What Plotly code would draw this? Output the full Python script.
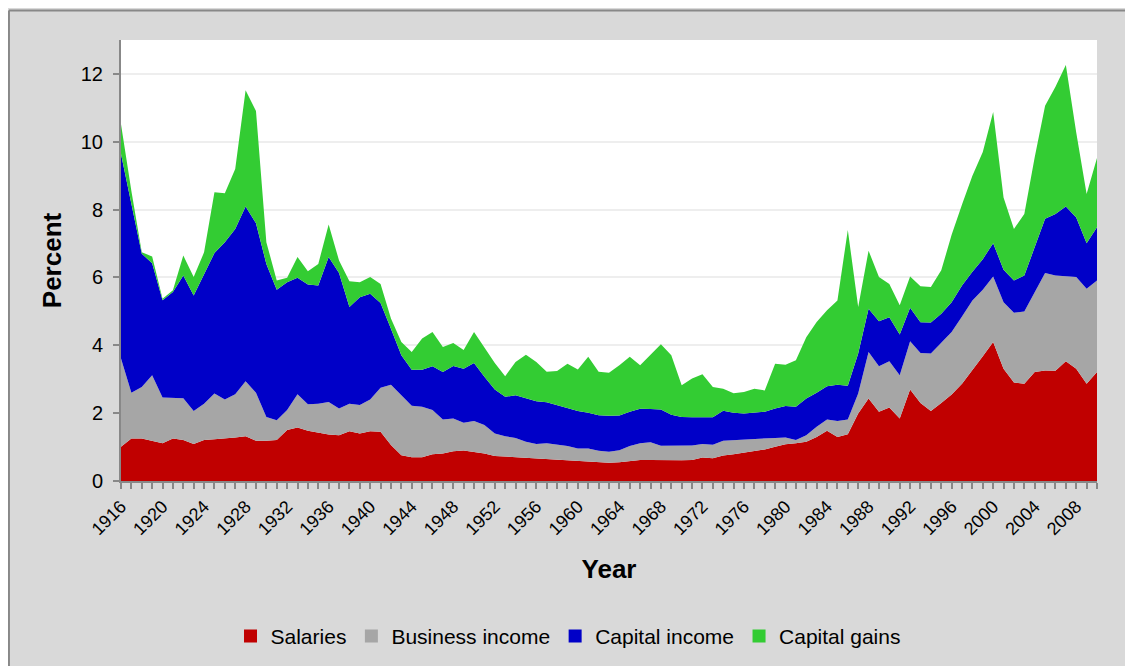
import plotly.graph_objects as go

years = list(range(1916, 2011))

salaries = [1.01, 1.25, 1.25, 1.19, 1.11, 1.25, 1.21, 1.09, 1.21, 1.23,
            1.25, 1.28, 1.32, 1.19, 1.19, 1.21, 1.50, 1.58, 1.48, 1.42,
            1.37, 1.35, 1.47, 1.40, 1.47, 1.45, 1.06, 0.76, 0.70, 0.70,
            0.79, 0.81, 0.88, 0.90, 0.86, 0.81, 0.74, 0.72, 0.72, 0.69,
            0.67, 0.65, 0.64, 0.62, 0.59, 0.56, 0.54, 0.54, 0.55, 0.59,
            0.62, 0.62, 0.61, 0.61, 0.61, 0.62, 0.69, 0.67, 0.75, 0.79,
            0.83, 0.89, 0.93, 1.01, 1.08, 1.11, 1.16, 1.30, 1.48, 1.30,
            1.38, 1.99, 2.43, 2.04, 2.17, 1.84, 2.70, 2.30, 2.06, 2.30,
            2.55, 2.87, 3.26, 3.68, 4.10, 3.31, 2.90, 2.87, 3.21, 3.26,
            3.25, 3.53, 3.31, 2.87, 3.21]

business_income = [2.60, 1.35, 1.52, 1.93, 1.35, 1.21, 1.23, 0.97, 1.07, 1.35,
                   1.15, 1.28, 1.62, 1.41, 0.70, 0.58, 0.59, 0.98, 0.78, 0.86,
                   0.96, 0.79, 0.81, 0.84, 0.93, 1.30, 1.78, 1.77, 1.52, 1.49,
                   1.30, 1.00, 0.96, 0.82, 0.91, 0.84, 0.66, 0.60, 0.55, 0.47,
                   0.42, 0.46, 0.44, 0.41, 0.37, 0.40, 0.35, 0.32, 0.36, 0.44,
                   0.49, 0.52, 0.43, 0.43, 0.42, 0.43, 0.40, 0.40, 0.44, 0.42,
                   0.39, 0.36, 0.34, 0.26, 0.20, 0.10, 0.19, 0.30, 0.33, 0.47,
                   0.43, 0.59, 1.37, 1.34, 1.36, 1.28, 1.42, 1.47, 1.70, 1.77,
                   1.84, 1.98, 2.06, 1.96, 1.93, 1.96, 2.06, 2.13, 2.36, 2.87,
                   2.81, 2.51, 2.70, 2.80, 2.70]

capital_income = [6.03, 5.57, 3.93, 3.30, 2.87, 3.11, 3.62, 3.41, 3.83, 4.14,
                  4.64, 4.87, 5.15, 5.00, 4.51, 3.85, 3.77, 3.43, 3.53, 3.48,
                  4.27, 3.99, 2.85, 3.18, 3.12, 2.50, 1.65, 1.18, 1.06, 1.09,
                  1.29, 1.40, 1.55, 1.59, 1.71, 1.42, 1.30, 1.16, 1.26, 1.29,
                  1.26, 1.21, 1.16, 1.11, 1.10, 1.05, 1.05, 1.06, 1.02, 1.01,
                  1.02, 0.98, 1.07, 0.91, 0.86, 0.83, 0.79, 0.81, 0.88, 0.80,
                  0.77, 0.76, 0.77, 0.87, 0.93, 0.98, 1.08, 1.00, 0.98, 1.07,
                  1.00, 1.18, 1.28, 1.33, 1.30, 1.20, 0.99, 0.91, 0.91, 0.86,
                  0.88, 0.91, 0.85, 0.90, 0.98, 0.96, 0.95, 1.06, 1.32, 1.60,
                  1.81, 2.05, 1.76, 1.34, 1.57]

capital_gains = [0.88, 0.38, 0.04, 0.20, 0.04, 0.05, 0.59, 0.54, 0.63, 1.79,
                 1.44, 1.77, 3.43, 3.31, 0.64, 0.27, 0.13, 0.61, 0.39, 0.64,
                 0.96, 0.37, 0.76, 0.44, 0.49, 0.56, 0.30, 0.39, 0.52, 0.92,
                 1.01, 0.74, 0.68, 0.55, 0.91, 0.86, 0.78, 0.61, 0.98, 1.27,
                 1.16, 0.90, 1.00, 1.32, 1.23, 1.65, 1.28, 1.27, 1.48, 1.62,
                 1.28, 1.60, 1.92, 1.76, 0.93, 1.14, 1.27, 0.89, 0.65, 0.58,
                 0.63, 0.71, 0.63, 1.32, 1.22, 1.37, 1.81, 2.09, 2.24, 2.48,
                 4.59, 1.37, 1.71, 1.30, 0.98, 0.86, 0.92, 1.06, 1.05, 1.28,
                 1.99, 2.39, 2.83, 3.16, 3.87, 2.13, 1.52, 1.81, 2.65, 3.33,
                 3.75, 4.17, 2.50, 1.45, 2.04]

series = [
    ("Salaries", salaries, "#C00000"),
    ("Business income", business_income, "#A6A6A6"),
    ("Capital income", capital_income, "#0000C8"),
    ("Capital gains", capital_gains, "#33CC33"),
]

tick_years = list(range(1916, 2011, 4))

fig = go.Figure()
for name, vals, color in series:
    fig.add_trace(go.Scatter(
        x=years, y=vals, name=name, mode="lines", legendgroup=name,
        stackgroup="one", line=dict(width=0, color=color),
        fillcolor=color, showlegend=False,
    ))
# legend entries drawn as small squares
for name, vals, color in series:
    fig.add_trace(go.Scatter(
        x=[None], y=[None], name=name, mode="markers", legendgroup=name,
        marker=dict(symbol="square", size=13, color=color), showlegend=True,
    ))

FONT = "Liberation Sans, Arial, sans-serif"

fig.update_layout(
    width=1125, height=658,
    margin=dict(l=113, r=36, t=32, b=185),
    paper_bgcolor="#D9D9D9",
    plot_bgcolor="#FFFFFF",
    font=dict(family=FONT, color="#000000"),
    showlegend=True,
    legend=dict(orientation="h", x=0.458, xanchor="center",
                yref="container", y=0.045, yanchor="middle",
                font=dict(size=21, family=FONT), itemwidth=30,
                bgcolor="rgba(0,0,0,0)", traceorder="normal"),
    xaxis=dict(
        range=[1916, 2010], tickmode="array", tickvals=tick_years,
        ticktext=[str(y) for y in tick_years], tickangle=-45,
        tickfont=dict(size=18, family=FONT), showgrid=False, zeroline=False,
        showline=True, linecolor="#888888", linewidth=2,
        ticks="outside", ticklen=6, tickcolor="#888888", tickwidth=2,
        minor=dict(dtick=1, tick0=1916, ticks="outside", ticklen=6,
                   tickcolor="#888888", tickwidth=2, showgrid=False),
        title=dict(text="<b>Year</b>", font=dict(size=26, family=FONT), standoff=22),
    ),
    yaxis=dict(
        range=[0, 13], tick0=0, dtick=2, tickfont=dict(size=20, family=FONT),
        showgrid=True, gridcolor="#EEEEEE", gridwidth=2, zeroline=False,
        showline=True, linecolor="#888888", linewidth=2,
        ticks="outside", ticklen=6, tickcolor="#888888", tickwidth=2,
        ticklabelstandoff=6,
        title=dict(text="<b>Percent</b>", font=dict(size=26, family=FONT), standoff=12),
    ),
    shapes=[
        dict(type="line", xref="paper", yref="paper", x0=-0.1148, x1=-0.1148,
             y0=-0.6, y1=1.0669, line=dict(color="#888888", width=2)),
        dict(type="line", xref="paper", yref="paper", x0=-0.1148, x1=1.2,
             y0=1.0669, y1=1.0669, line=dict(color="#888888", width=2)),
    ],
)

fig.write_html("out.html")
